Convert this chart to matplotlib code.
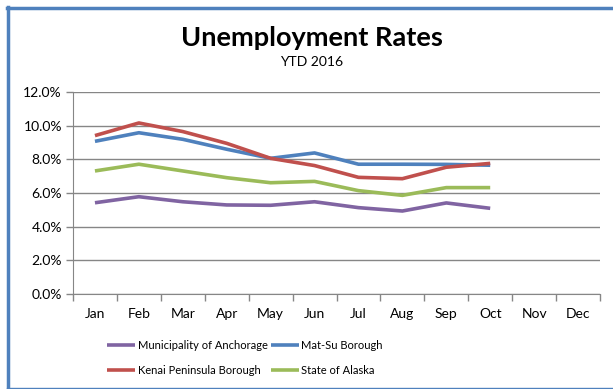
import matplotlib
matplotlib.use("Agg")
import matplotlib.pyplot as plt
from matplotlib.lines import Line2D
from matplotlib.ticker import FuncFormatter, FixedLocator

plt.rcParams["font.family"] = ["Lato", "DejaVu Sans"]

months = ["Jan", "Feb", "Mar", "Apr", "May", "Jun", "Jul", "Aug", "Sep", "Oct", "Nov", "Dec"]
anchorage = [5.42, 5.78, 5.48, 5.29, 5.27, 5.48, 5.13, 4.93, 5.41, 5.09]
matsu = [9.07, 9.58, 9.19, 8.60, 8.06, 8.38, 7.71, 7.71, 7.70, 7.65]
kenai = [9.41, 10.16, 9.65, 8.95, 8.06, 7.63, 6.93, 6.85, 7.53, 7.76]
alaska = [7.31, 7.71, 7.31, 6.91, 6.61, 6.69, 6.14, 5.86, 6.32, 6.32]

series = [
    ("Municipality of Anchorage", anchorage, "#8064A2"),
    ("Mat-Su Borough", matsu, "#4F81BD"),
    ("Kenai Peninsula Borough", kenai, "#C0504D"),
    ("State of Alaska", alaska, "#9BBB59"),
]

fig = plt.figure(figsize=(6.13, 3.89), dpi=100)
ax = fig.add_axes([73 / 613, 1 - 294 / 389, 527 / 613, 202 / 389])

x = list(range(len(months)))
lines = {}
for name, vals, color in series:
    lines[name], = ax.plot(x[: len(vals)], vals, color=color, lw=2.6, label=name, solid_capstyle="butt")

ax.set_xlim(-0.5, 11.5)
ax.set_ylim(0, 12)
ax.set_yticks([0, 2, 4, 6, 8, 10, 12])
ax.yaxis.set_major_formatter(FuncFormatter(lambda v, p: f"{v:.1f}%"))
ax.set_xticks(x)
ax.set_xticklabels(months)
ax.xaxis.set_minor_locator(FixedLocator([i - 0.5 for i in range(13)]))
ax.tick_params(axis="x", which="major", length=0, pad=10, labelsize=10)
ax.tick_params(axis="x", which="minor", length=5, color="#868686", width=1)
ax.tick_params(axis="y", length=5, color="#868686", width=1, labelsize=10, pad=3)
ax.grid(axis="y", color="#868686", lw=1)
ax.set_axisbelow(True)
for s in ["top", "right"]:
    ax.spines[s].set_visible(False)
for s in ["left", "bottom"]:
    ax.spines[s].set_color("#868686")

fig.text(312 / 613, 1 - 38 / 389, "Unemployment Rates", ha="center", va="center",
         fontsize=19.5, fontweight="bold")
fig.text(312 / 613, 1 - 62 / 389, "YTD 2016", ha="center", va="center", fontsize=10)

# legend rows: Anchorage, Mat-Su / Kenai, Alaska (matplotlib fills column-wise)
order = ["Municipality of Anchorage", "Kenai Peninsula Borough", "Mat-Su Borough", "State of Alaska"]
fig.legend([lines[n] for n in order], order, ncol=2, frameon=False, loc="center",
           bbox_to_anchor=(245 / 613, 1 - 358 / 389), fontsize=8,
           handlelength=2.5, handletextpad=0.25, columnspacing=0.3, labelspacing=1.3)

# blue frame
fig.add_artist(Line2D([8 / 613, 8 / 613], [1 - 7 / 389, 1 - 388 / 389], color="#4F81BD", lw=2.5,
                      transform=fig.transFigure))
fig.add_artist(Line2D([7 / 613, 1.0], [1 - 7.5 / 389, 1 - 7.5 / 389], color="#4F81BD", lw=2.5,
                      transform=fig.transFigure))
fig.add_artist(Line2D([7 / 613, 1.0], [1 - 387.5 / 389, 1 - 387.5 / 389], color="#4F81BD", lw=1,
                      transform=fig.transFigure))

fig.savefig("out.png", dpi=100)
